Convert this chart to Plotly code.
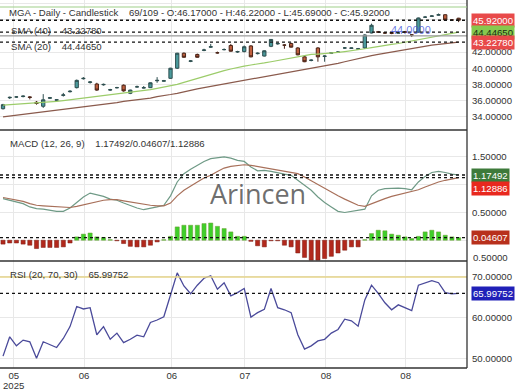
import plotly.graph_objects as go

# ---------------- data ----------------
idx = list(range(69))
opens = [35.0, 36.35, 36.45, 36.5, 36.45, 35.8, 35.3, 36.3, 36.05, 36.65,
         37.1, 37.6, 38.7, 38.25, 38.05, 37.95, 37.3, 37.6, 37.9, 36.9,
         37.7, 37.55, 37.6, 38.45, 38.4, 38.75, 40.0, 41.85, 40.85, 41.7,
         42.2, 42.6, 41.9, 42.3, 42.8, 42.0, 42.05, 42.75, 41.8, 41.5,
         42.7, 43.0, 42.85, 43.05, 42.5, 41.4, 40.95, 42.5, 41.45, 41.85,
         41.95, 42.5, 42.45, 42.35, 42.5, 44.35, 44.5, 44.35, 44.4, 44.35,
         44.5, 44.1, 44.45, 46.3, 46.4, 46.55, 46.6, 45.95, 46.17]
highs = [35.6, 36.5, 36.55, 36.65, 36.55, 35.95, 36.8, 36.45, 36.2, 36.95,
         37.3, 38.6, 38.9, 38.4, 38.2, 38.1, 37.45, 37.7, 38.0, 37.35,
         37.85, 37.8, 38.25, 38.9, 38.55, 40.05, 41.9, 41.95, 41.0, 41.8,
         42.4, 43.0, 42.05, 42.45, 43.0, 42.15, 42.8, 42.85, 41.95, 42.2,
         43.6, 43.1, 42.95, 43.15, 42.6, 41.5, 41.1, 42.6, 41.6, 42.0,
         42.1, 42.6, 42.55, 42.5, 44.2, 45.5, 44.6, 44.45, 44.45, 44.45,
         44.6, 44.2, 46.25, 46.45, 46.55, 46.75, 46.65, 46.05, 46.22]
lows = [34.9, 36.2, 36.35, 36.4, 36.15, 35.5, 35.1, 36.2, 35.95, 36.5,
        37.0, 37.5, 38.6, 38.1, 37.2, 37.85, 37.2, 37.5, 37.1, 36.8,
        37.6, 37.5, 37.55, 38.2, 38.35, 38.7, 39.9, 41.3, 40.75, 41.3,
        42.1, 42.5, 41.8, 42.2, 42.05, 41.9, 41.95, 41.35, 41.7, 41.45,
        42.6, 42.9, 42.4, 42.55, 41.6, 40.75, 40.85, 40.8, 40.8, 41.75,
        41.9, 42.4, 42.4, 42.3, 42.4, 44.3, 44.4, 44.25, 44.2, 44.3,
        44.4, 43.85, 44.4, 46.2, 46.35, 46.5, 45.9, 45.9, 45.69]
closes = [35.5, 36.4, 36.45, 36.55, 36.4, 35.65, 36.1, 36.35, 36.1, 36.7,
          37.15, 38.5, 38.75, 38.3, 37.3, 38.0, 37.35, 37.6, 37.2, 37.3,
          37.7, 37.6, 38.2, 38.5, 38.45, 40.0, 41.85, 41.35, 40.9, 41.35,
          42.25, 42.65, 41.9, 42.3, 42.1, 42.05, 42.65, 41.4, 41.85, 42.15,
          43.55, 43.05, 42.85, 42.6, 41.65, 40.8, 41.0, 41.4, 41.5, 41.9,
          42.0, 42.5, 42.5, 42.4, 44.1, 45.3, 44.45, 44.35, 44.3, 44.35,
          44.45, 44.1, 46.2, 46.3, 46.45, 46.6, 45.95, 45.95, 45.92]
sma20 = [35.45, 35.5, 35.55, 35.6, 35.65, 35.7, 35.75, 35.8, 35.9, 36.0,
         36.1, 36.2, 36.3, 36.4, 36.5, 36.6, 36.7, 36.8, 36.9, 37.0,
         37.1, 37.2, 37.35, 37.5, 37.65, 37.8, 38.0, 38.25, 38.5, 38.75,
         39.0, 39.25, 39.5, 39.7, 39.9, 40.1, 40.25, 40.4, 40.5, 40.65,
         40.8, 40.95, 41.1, 41.3, 41.45, 41.6, 41.7, 41.75, 41.8, 41.85,
         41.95, 42.05, 42.15, 42.25, 42.4, 42.55, 42.7, 42.85, 42.95, 43.05,
         43.2, 43.35, 43.5, 43.65, 43.85, 44.0, 44.15, 44.3, 44.4465]
sma40 = [34.0, 34.1, 34.2, 34.3, 34.4, 34.5, 34.6, 34.7, 34.8, 34.9,
         35.0, 35.1, 35.2, 35.3, 35.4, 35.5, 35.6, 35.75, 35.9, 36.0,
         36.1, 36.2, 36.3, 36.5, 36.6, 36.75, 36.9, 37.1, 37.3, 37.45,
         37.6, 37.75, 37.9, 38.0, 38.15, 38.3, 38.45, 38.6, 38.75, 38.9,
         39.05, 39.2, 39.35, 39.5, 39.65, 39.8, 39.95, 40.1, 40.25, 40.4,
         40.6, 40.8, 41.0, 41.2, 41.4, 41.55, 41.7, 41.85, 42.0, 42.15,
         42.3, 42.45, 42.6, 42.7, 42.85, 42.95, 43.05, 43.15, 43.2278]
macd = [0.75, 0.72, 0.70, 0.66, 0.60, 0.57, 0.56, 0.54, 0.52, 0.52,
        0.58, 0.68, 0.78, 0.85, 0.82, 0.79, 0.74, 0.72, 0.67, 0.62,
        0.58, 0.55, 0.57, 0.60, 0.63, 0.80, 1.05, 1.20, 1.28, 1.35,
        1.42, 1.47, 1.49, 1.50, 1.48, 1.44, 1.42, 1.32, 1.25, 1.26,
        1.24, 1.21, 1.19, 1.17, 1.08, 0.99, 0.90, 0.78, 0.68, 0.60,
        0.52, 0.50, 0.52, 0.53, 0.56, 0.80, 0.90, 0.93, 0.94, 0.94,
        0.93, 0.91, 1.05, 1.15, 1.22, 1.24, 1.22, 1.19, 1.17492]
signal = [0.77, 0.75, 0.72, 0.70, 0.66, 0.63, 0.62, 0.61, 0.60, 0.59,
          0.59, 0.61, 0.64, 0.67, 0.70, 0.72, 0.73, 0.73, 0.71, 0.69,
          0.66, 0.64, 0.63, 0.62, 0.62, 0.67, 0.80, 0.90, 0.98, 1.05,
          1.12, 1.17, 1.24, 1.30, 1.33, 1.35, 1.36, 1.35, 1.33, 1.31,
          1.29, 1.27, 1.25, 1.23, 1.20, 1.14, 1.07, 1.00, 0.93, 0.87,
          0.80, 0.74, 0.68, 0.63, 0.61, 0.66, 0.71, 0.75, 0.79, 0.82,
          0.85, 0.87, 0.91, 0.96, 1.01, 1.05, 1.08, 1.11, 1.12886]
hist = [-0.07, -0.05, -0.05, -0.07, -0.09, -0.15, -0.13, -0.13, -0.13, -0.12,
        -0.05, 0.06, 0.11, 0.13, 0.06, 0.05, 0.01, -0.01, -0.06, -0.11,
        -0.12, -0.12, -0.09, -0.03, 0.01, 0.07, 0.24, 0.27, 0.27, 0.27,
        0.30, 0.31, 0.25, 0.21, 0.15, 0.07, 0.07, -0.02, -0.10, -0.12,
        -0.01, -0.01, -0.09, -0.12, -0.23, -0.31, -0.36, -0.36, -0.33, -0.29,
        -0.23, -0.18, -0.12, -0.12, 0.01, 0.12, 0.18, 0.17, 0.11, 0.09,
        0.06, 0.03, 0.07, 0.15, 0.18, 0.15, 0.09, 0.06, 0.04607]
rsi = [50.7, 55.4, 53.2, 54.6, 54.2, 50.2, 54.2, 53.4, 52.8, 55.0,
       57.9, 62.8, 62.2, 62.5, 55.9, 57.9, 54.8, 56.3, 54.0, 54.8,
       55.8, 55.4, 58.9, 59.5, 60.3, 65.6, 71.0, 67.8, 65.9, 68.0,
       69.7, 70.3, 67.0, 68.6, 65.4, 66.2, 67.2, 60.2, 61.3, 62.1,
       67.2, 62.5, 62.0, 61.3, 55.9, 52.4, 53.2, 54.4, 54.8, 56.3,
       57.2, 59.7, 59.3, 58.0, 64.4, 68.0, 66.0, 63.7, 62.0, 63.2,
       62.5, 61.8, 68.0, 68.5, 69.1, 68.6, 66.2, 65.9, 65.99752]
hline_price = 44.0
hline_label_pos = 60.9
x_tick_pos = [1.6, 12.1, 25.2, 36.1, 48.2, 60.1]
x_tick_text = ["05", "06", "06", "07", "08", "08"]
year_label = "2025"
price_ticks = [34, 36, 38, 40, 42, 44, 46, 48]
macd_ticks = [1.5, 1.0, 0.5, 0.0]
rsi_ticks = [70, 60, 50]

# ---------------- figure ----------------
FONT = "Liberation Sans, Arial, sans-serif"
FS = 9.6
TXT = "#333333"
GRID = "#e8e8e8"
XR = [-0.45, 69.25]
D_TOP = [0.6467, 1.0]
D_MID = [0.2908, 0.644]
D_BOT = [0.0, 0.2908]

fig = go.Figure()

fig.add_trace(go.Candlestick(
    x=idx, open=opens, high=highs, low=lows, close=closes,
    increasing=dict(line=dict(color="#2f4f50", width=1), fillcolor="#4a9a9c"),
    decreasing=dict(line=dict(color="#4a2418", width=1), fillcolor="#c0603e"),
    whiskerwidth=0, xaxis="x", yaxis="y", showlegend=False, hoverinfo="skip"))
fig.add_trace(go.Scatter(x=idx, y=sma20, mode="lines", line=dict(color="#9ccc6a", width=1.2),
                         xaxis="x", yaxis="y", showlegend=False, hoverinfo="skip"))
fig.add_trace(go.Scatter(x=idx, y=sma40, mode="lines", line=dict(color="#8a5a4c", width=1.2),
                         xaxis="x", yaxis="y", showlegend=False, hoverinfo="skip"))

hist_colors = ["#3fcf2a" if v >= 0 else "#b2281c" for v in hist]
hist_lines = ["#6a9a30" if v >= 0 else "#7a1a10" for v in hist]
fig.add_trace(go.Bar(x=idx, y=hist, marker=dict(color=hist_colors, line=dict(color=hist_lines, width=0.5)),
                     width=0.62, xaxis="x2", yaxis="y2", showlegend=False, hoverinfo="skip"))
fig.add_trace(go.Scatter(x=idx, y=macd, mode="lines", line=dict(color="#6f9a86", width=1.2),
                         xaxis="x2", yaxis="y2", showlegend=False, hoverinfo="skip"))
fig.add_trace(go.Scatter(x=idx, y=signal, mode="lines", line=dict(color="#a8705a", width=1.2),
                         xaxis="x2", yaxis="y2", showlegend=False, hoverinfo="skip"))

fig.add_trace(go.Scatter(x=idx, y=rsi, mode="lines", line=dict(color="#4a4a9a", width=1.3),
                         xaxis="x3", yaxis="y3", showlegend=False, hoverinfo="skip"))

xcommon = dict(range=XR, showgrid=True, gridcolor=GRID, gridwidth=1, zeroline=False,
               tickvals=x_tick_pos, ticktext=x_tick_text, showticklabels=False,
               ticks="", fixedrange=True)
ycommon = dict(side="right", showgrid=True, gridcolor=GRID, zeroline=False, ticks="",
               tickformat=".5f", tickfont=dict(family=FONT, size=FS, color=TXT),
               ticklabelstandoff=4, fixedrange=True)

fig.update_layout(
    width=520, height=390,
    margin=dict(l=0, r=53, t=0, b=22),
    paper_bgcolor="white", plot_bgcolor="white",
    font=dict(family=FONT, size=FS, color=TXT),
    xaxis=dict(**xcommon, domain=[0, 1], anchor="y", rangeslider=dict(visible=False)),
    xaxis2=dict(**xcommon, domain=[0, 1], anchor="y2", matches="x"),
    xaxis3=dict(**{**xcommon, "showticklabels": True}, domain=[0, 1], anchor="y3", matches="x",
                tickfont=dict(family=FONT, size=FS, color=TXT), ticklabelstandoff=0),
    yaxis=dict(**ycommon, domain=D_TOP, anchor="x", range=[32.37, 48.42], tickvals=price_ticks),
    yaxis2=dict(**ycommon, domain=D_MID, anchor="x2", range=[-0.374, 1.968], tickvals=macd_ticks),
    yaxis3=dict(**ycommon, domain=D_BOT, anchor="x3", range=[47.8, 73.9], tickvals=rsi_ticks),
)

shapes = []
def hline(y, yref, color, dash=None, width=1):
    d = dict(type="line", xref="x", x0=XR[0], x1=XR[1], yref=yref, y0=y, y1=y,
             line=dict(color=color, width=width))
    if dash:
        d["line"]["dash"] = dash
    shapes.append(d)

hline(hline_price, "y", "#a0a0a0", width=1.2)
hline(closes[-1], "y", "#111111", dash="3px,3px", width=1.3)
hline(sma20[-1], "y", "#111111", dash="3px,3px", width=1.3)
hline(sma40[-1], "y", "#111111", dash="3px,3px", width=1.3)
hline(macd[-1], "y2", "#111111", dash="3px,3px", width=1.3)
hline(signal[-1], "y2", "#111111", dash="3px,3px", width=1.3)
hline(hist[-1], "y2", "#111111", dash="3px,3px", width=1.3)
hline(70, "y3", "#e6d48a", width=1.3)
hline(rsi[-1], "y3", "#111111", dash="3px,3px", width=1.3)

# panel borders
for yb in [D_TOP[0], D_BOT[1], 0.0]:
    shapes.append(dict(type="line", xref="paper", x0=0, x1=1, yref="paper", y0=yb, y1=yb,
                       line=dict(color="#333333", width=1.3)))
shapes.append(dict(type="line", xref="paper", x0=1, x1=1, yref="paper", y0=0, y1=1,
                   line=dict(color="#333333", width=1.3)))
shapes.append(dict(type="line", xref="paper", x0=0, x1=1, yref="paper", y0=0.981, y1=0.981,
                   line=dict(color="#9fd08a", width=1.2)))
fig.update_layout(shapes=shapes)

ann = []
def box(val, yref, txt, bg, fg="white", yshift=0):
    ann.append(dict(x=1, xref="paper", xanchor="left", xshift=4, y=val, yref=yref, yshift=yshift,
                    text=txt, showarrow=False, bgcolor=bg, font=dict(family=FONT, size=FS, color=fg),
                    borderpad=1, yanchor="middle"))

box(closes[-1], "y", "%.5f" % closes[-1], "#e84a4a")
box(sma20[-1], "y", "%.5f" % sma20[-1], "#86c94e", fg="#1a2a10")
box(sma40[-1], "y", "%.5f" % sma40[-1], "#e84a4a")
box(macd[-1], "y2", "%.5f" % macd[-1], "#3d7a3a")
box(signal[-1], "y2", "%.5f" % signal[-1], "#e8281e", yshift=-11)
box(hist[-1], "y2", "%.5f" % hist[-1], "#b8301c")
box(rsi[-1], "y3", "%.5f" % rsi[-1], "#2020b8")

def edge_label(val, yref, txt, yshift):
    ann.append(dict(x=1, xref="paper", xanchor="left", xshift=4, y=val, yref=yref, yshift=yshift,
                    text=txt, showarrow=False, font=dict(family=FONT, size=FS, color=TXT),
                    yanchor="middle"))

edge_label(32, "y", "32.00000", 9)
edge_label(2.0, "y2", "2.00000", -8)
edge_label(-0.374, "y2", "0.50000", 3)

# year under the first month label
ann.append(dict(x=x_tick_pos[0], xref="x", xanchor="center", y=0, yref="paper", yanchor="top",
                yshift=-10, text=year_label, showarrow=False,
                font=dict(family=FONT, size=FS, color=TXT)))

def leg(xpx, ypx, txt):
    ann.append(dict(x=xpx / 467, xref="paper", xanchor="left", y=1 - ypx / 368, yref="paper",
                    yanchor="middle", text=txt, showarrow=False,
                    font=dict(family=FONT, size=FS, color=TXT)))

leg(7, 12, "MGA - Daily - Candlestick    69/109 - O:46.17000 - H:46.22000 - L:45.69000 - C:45.92000")
leg(9, 30, "SMA (40)    43.22780")
leg(9, 46, "SMA (20)    44.44650")
leg(8, 143, "MACD (12, 26, 9)    1.17492/0.04607/1.12886")
leg(8, 274, "RSI (20, 70, 30)    65.99752")

ann.append(dict(x=hline_label_pos, xref="x", xanchor="center", y=hline_price, yref="y", yanchor="middle",
                yshift=6, text="44.0000", showarrow=False,
                font=dict(family=FONT, size=11, color="rgba(70,90,220,0.8)")))
ann.append(dict(x=258 / 467, xref="paper", xanchor="center", y=1 - 193 / 368, yref="paper",
                yanchor="middle", text="Arincen", showarrow=False,
                font=dict(family="Open Sans, sans-serif", size=27, color="rgba(85,85,85,0.85)")))
fig.update_layout(annotations=ann)

fig.write_html("out.html", config={"displayModeBar": False},
               post_script="document.body.style.margin='0';document.body.style.overflow='hidden';")
